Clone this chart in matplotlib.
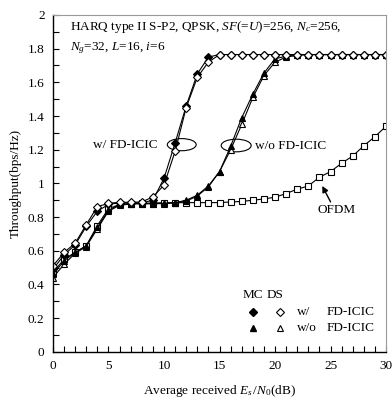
import matplotlib
matplotlib.use("Agg")
import matplotlib.pyplot as plt
from matplotlib.patches import Ellipse
from matplotlib.ticker import MultipleLocator

plt.rcParams['font.family'] = ['Liberation Serif', 'DejaVu Serif']
plt.rcParams['mathtext.fontset'] = 'custom'
plt.rcParams['mathtext.rm'] = 'Liberation Serif'
plt.rcParams['mathtext.it'] = 'Liberation Serif:italic'

# Average received Es/N0 (dB)
snr = list(range(31))

# throughput (bps/Hz)
mc_w = [0.49, 0.575, 0.635, 0.745, 0.835, 0.875, 0.885, 0.885, 0.885, 0.90, 1.03,
        1.24, 1.46, 1.65, 1.75, 1.765] + [1.765] * 15
ds_w = [0.51, 0.59, 0.645, 0.755, 0.862, 0.882, 0.888, 0.888, 0.89, 0.92, 0.99,
        1.19, 1.45, 1.63, 1.72, 1.765] + [1.765] * 15
mc_wo = [0.46, 0.54, 0.59, 0.63, 0.74, 0.84, 0.875, 0.88, 0.88, 0.88, 0.88,
         0.885, 0.895, 0.925, 0.98, 1.07, 1.22, 1.39, 1.53, 1.655, 1.74,
         1.755, 1.765] + [1.765] * 8
ds_wo = [0.44, 0.52, 0.585, 0.625, 0.73, 0.835, 0.87, 0.878, 0.88, 0.88, 0.882,
         0.886, 0.90, 0.93, 0.985, 1.07, 1.20, 1.35, 1.51, 1.64, 1.72,
         1.75, 1.76] + [1.765] * 8
ofdm = [0.47, 0.55, 0.59, 0.63, 0.75, 0.85, 0.875, 0.88, 0.882, 0.884, 0.885,
        0.885, 0.886, 0.886, 0.886, 0.886, 0.89, 0.893, 0.90, 0.908, 0.918,
        0.94, 0.966, 0.985, 1.037, 1.07, 1.12, 1.163, 1.224, 1.278, 1.34]

fig = plt.figure(figsize=(3.92, 4.04), dpi=100)
ax = fig.add_axes([0.135, 0.129, 0.850, 0.834])

ms = 4.3
ax.plot(snr, ofdm, '-', color='black', lw=0.8, marker='s', ms=4.0,
        mfc='white', mec='black', mew=0.8)
ax.plot(snr, ds_wo, '-', color='black', lw=0.8, marker='^', ms=ms,
        mfc='white', mec='black', mew=0.8)
ax.plot(snr, mc_wo, '-', color='black', lw=0.8, marker='^', ms=ms,
        mfc='black', mec='black', mew=0.8)
ax.plot(snr, mc_w, '-', color='black', lw=0.8, marker='D', ms=3.7,
        mfc='black', mec='black', mew=0.8)
ax.plot(snr, ds_w, '-', color='black', lw=0.8, marker='D', ms=3.7,
        mfc='white', mec='black', mew=0.8)

ax.set_xlim(0, 30)
ax.set_ylim(0, 2)
ax.xaxis.set_major_locator(MultipleLocator(5))
ax.xaxis.set_minor_locator(MultipleLocator(1))
ax.yaxis.set_minor_locator(MultipleLocator(0.1))
ax.set_yticks([0, 0.2, 0.4, 0.6, 0.8, 1, 1.2, 1.4, 1.6, 1.8, 2])
ax.set_yticklabels(['0', '0.2', '0.4', '0.6', '0.8', '1', '1.2', '1.4', '1.6', '1.8', '2'])
ax.tick_params(which='both', direction='in', labelsize=9.5, width=0.8)
ax.tick_params(which='major', length=4, pad=6)
ax.tick_params(which='minor', length=4)
ax.tick_params(axis='x', which='both', top=False)
ax.tick_params(axis='y', which='both', right=False)

for s in ['top', 'right']:
    ax.spines[s].set_color('#999999')
    ax.spines[s].set_linewidth(0.8)
for s in ['left', 'bottom']:
    ax.spines[s].set_linewidth(1.0)

ax.set_xlabel(r'Average received $E_s\,/N_0$(dB)', fontsize=9.5, labelpad=8)
ax.set_ylabel('Throughput(bps/Hz)', fontsize=9.5, labelpad=4)

ax.text(1.5, 1.93, r'HARQ type II S-P2, QPSK, $SF$(=$U$)=256, $N_c$=256,',
        fontsize=9.5, va='center')
ax.text(1.5, 1.805, r'$N_g$=32, $L$=16, $i$=6', fontsize=9.5, va='center')

# group labels with ellipses
ax.add_patch(Ellipse((11.6, 1.23), 2.6, 0.072, fill=False, lw=0.8, color='black'))
ax.text(3.6, 1.23, 'w/ FD-ICIC', fontsize=9.5, va='center')
ax.add_patch(Ellipse((16.5, 1.225), 2.7, 0.075, fill=False, lw=0.8, color='black'))
ax.text(18.2, 1.225, 'w/o FD-ICIC', fontsize=9.5, va='center')
ax.text(23.8, 0.84, 'OFDM', fontsize=9.5, va='center')
ax.annotate('', xy=(24.25, 0.985), xytext=(25.0, 0.89),
            arrowprops=dict(arrowstyle='-|>', color='black', lw=1.0,
                            mutation_scale=9, shrinkA=0, shrinkB=0))

# legend
ax.text(18.0, 0.335, 'MC', fontsize=9.5, ha='center', va='center')
ax.text(20.0, 0.335, 'DS', fontsize=9.5, ha='center', va='center')
ax.plot([18.0], [0.235], 'D', ms=3.7, mfc='black', mec='black')
ax.plot([20.45], [0.235], 'D', ms=3.7, mfc='white', mec='black', mew=0.8)
ax.plot([18.0], [0.14], '^', ms=ms, mfc='black', mec='black')
ax.plot([20.45], [0.14], '^', ms=ms, mfc='white', mec='black', mew=0.8)
ax.text(21.95, 0.235, 'w/', fontsize=9.5, va='center')
ax.text(21.95, 0.14, 'w/o', fontsize=9.5, va='center')
ax.text(24.6, 0.235, 'FD-ICIC', fontsize=9.5, va='center')
ax.text(24.6, 0.14, 'FD-ICIC', fontsize=9.5, va='center')

fig.savefig('out.png', dpi=100)
